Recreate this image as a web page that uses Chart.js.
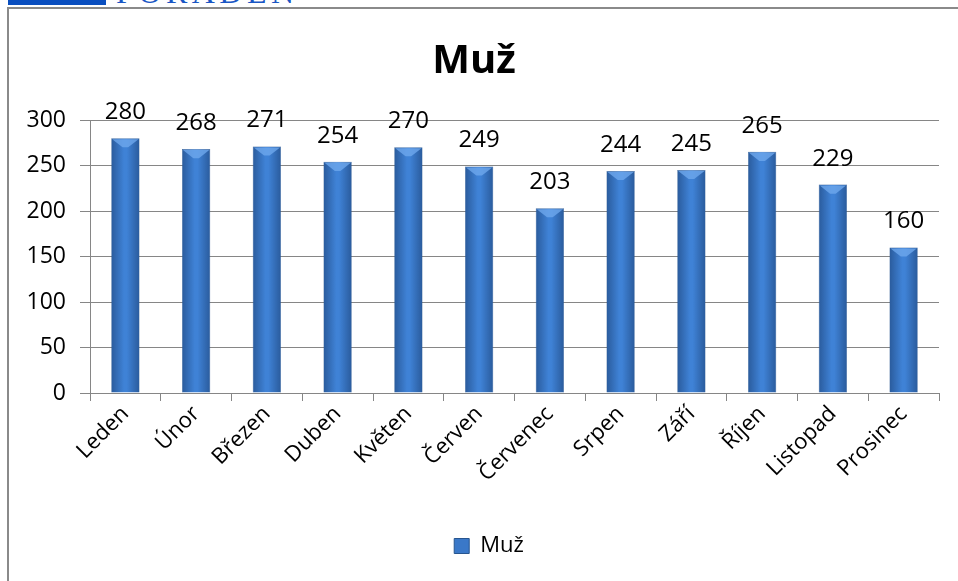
<!DOCTYPE html>
<html>
<head>
<meta charset="utf-8">
<script src="https://cdn.jsdelivr.net/npm/chart.js@4.4.0/dist/chart.umd.min.js"></script>
<style>
  html, body { margin: 0; padding: 0; background: #fff; }
  body { width: 958px; height: 581px; position: relative; overflow: hidden; }
  #logoBar { position: absolute; left: 8px; top: 0; width: 98px; height: 5px; background: #0a4fc0; }
  #logoText { position: absolute; left: 116px; top: 0; height: 7px; overflow: hidden; }
  #logoText span { display: block; margin-top: -24px; font: 32px "Liberation Serif", serif; letter-spacing: 4.5px; color: #1a56c4; line-height: 32px; }
  #frame { position: absolute; left: 7px; top: 7px; right: 0; bottom: 0; border-left: 2px solid #8a8a8a; border-top: 2px solid #8a8a8a; }
  #wrap { position: absolute; left: 9px; top: 10px; width: 949px; height: 571px; }
</style>
</head>
<body>
<div id="logoBar"></div>
<div id="logoText"><span>PORADEN</span></div>
<div id="frame"></div>
<div id="wrap"><canvas id="graf"></canvas></div>
<script>
//DATA
const mesice = ['Leden', 'Únor', 'Březen', 'Duben', 'Květen', 'Červen', 'Červenec', 'Srpen', 'Září', 'Říjen', 'Listopad', 'Prosinec'];
const muzi = [280, 268, 271, 254, 270, 249, 203, 244, 245, 265, 229, 160];
const osaY = [0, 50, 100, 150, 200, 250, 300];

const pismo = '"Open Sans", "Liberation Sans", sans-serif';
const sirkaSloupce = 0.4;

//GRADIENT FOR THE BARS (DARK EDGES, LIGHT MIDDLE)
function handleBarColor(ctx) {
  const sx = ctx.chart.scales.x;
  if (!sx || ctx.dataIndex === undefined) return '#3a78c8';
  const x = sx.getPixelForValue(ctx.dataIndex);
  const w = sx.width / mesice.length * sirkaSloupce;
  const g = ctx.chart.ctx.createLinearGradient(x - w / 2, 0, x + w / 2, 0);
  g.addColorStop(0, '#2a5b9c');
  g.addColorStop(0.45, '#3f82d6');
  g.addColorStop(0.55, '#3f82d6');
  g.addColorStop(1, '#2a5b9c');
  return g;
}

//BEVEL ON TOP + VALUE LABELS
const popisky = {
  id: 'popisky',
  afterLayout(chart) {
    // legend sits a bit right of centre in the original
    chart.legend.left += 15;
    chart.legend.right += 15;
  },
  afterDatasetsDraw(chart) {
    const ctx = chart.ctx;
    const meta = chart.getDatasetMeta(0);
    ctx.save();
    meta.data.forEach((bar, i) => {
      let w = bar.width;
      ctx.fillStyle = 'rgba(110,168,236,0.8)';
      ctx.beginPath();
      ctx.moveTo(bar.x - w / 2 + 1, bar.y + 1);
      ctx.lineTo(bar.x + w / 2 - 1, bar.y + 1);
      ctx.lineTo(bar.x + w * 0.1, bar.y + w * 0.32);
      ctx.lineTo(bar.x - w * 0.1, bar.y + w * 0.32);
      ctx.closePath();
      ctx.fill();

      ctx.fillStyle = '#000';
      ctx.font = '24px ' + pismo;
      ctx.textAlign = 'center';
      ctx.textBaseline = 'alphabetic';
      ctx.fillText(String(muzi[i]), bar.x, bar.y - 19);
    });
    ctx.restore();
  }
};

function handleGraf() {
  const cvs = document.getElementById('graf');
  new Chart(cvs, {
    type: 'bar',
    data: {
      labels: mesice,
      datasets: [{
        label: 'Muž',
        data: muzi,
        backgroundColor: handleBarColor,
        borderColor: '#27558f',
        borderWidth: 0.5,
        barPercentage: sirkaSloupce,
        categoryPercentage: 1
      }]
    },
    options: {
      responsive: true,
      maintainAspectRatio: false,
      animation: false,
      layout: { padding: { left: 0, right: 19, top: 0, bottom: 14 } },
      plugins: {
        title: {
          display: true,
          text: 'Muž',
          color: '#000',
          font: { family: pismo, size: 40, weight: 'bold' },
          padding: { top: 28, bottom: 34 }
        },
        legend: {
          position: 'bottom',
          labels: {
            color: '#000',
            font: { family: pismo, size: 22 },
            boxWidth: 15,
            boxHeight: 15,
            padding: 10,
            generateLabels: () => [{ text: 'Muž', fillStyle: '#3a78c8', strokeStyle: '#27558f', lineWidth: 1 }]
          }
        },
        tooltip: { enabled: false }
      },
      scales: {
        x: {
          grid: { display: true, drawOnChartArea: false, color: '#868686', tickLength: 8, offset: true },
          border: { color: '#868686', width: 1 },
          ticks: { color: '#000', font: { family: pismo, size: 22 }, minRotation: 45, maxRotation: 45, padding: 0 },
          afterFit: s => { s.height = 132; }
        },
        y: {
          min: 0,
          max: 300,
          afterBuildTicks: s => { s.ticks = osaY.map(v => ({ value: v })); },
          grid: { color: '#868686', tickLength: 10 },
          border: { color: '#868686', width: 1 },
          ticks: { color: '#000', font: { family: pismo, size: 23 }, padding: 14 },
          afterFit: s => { s.width = 81; }
        }
      }
    },
    plugins: [popisky]
  });
}

document.addEventListener('DOMContentLoaded', handleGraf);
</script>
</body>
</html>
